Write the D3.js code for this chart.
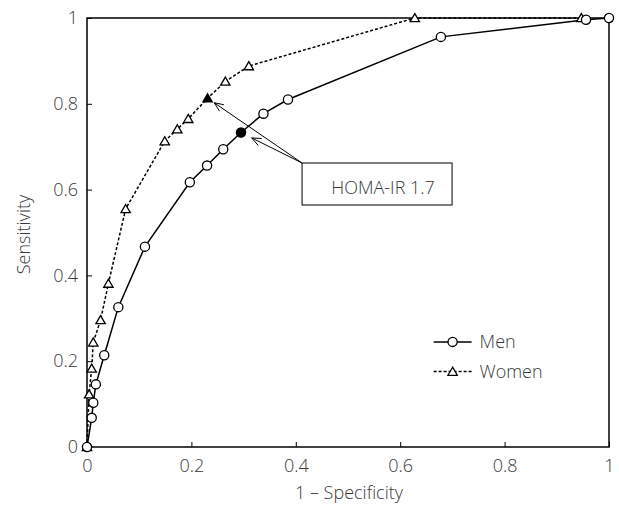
<!DOCTYPE html>
<html>
<head>
<meta charset="utf-8">
<script src="https://cdn.jsdelivr.net/npm/d3@7"></script>
<style>
  body { margin: 0; background: #fff; }
  text { font-family: "Open Sans", sans-serif; font-weight: 300; fill: #3a3a3a; }
</style>
</head>
<body>
<svg id="chart"></svg>
<script>
const W = 619
const H = 506
const MARGIN = {top: 18, right: 10, bottom: 59, left: 87}
const WIDTH = W - MARGIN.left - MARGIN.right
const HEIGHT = H - MARGIN.top - MARGIN.bottom
const FONT = "18px"

// 1 - specificity / sensitivity
const menX = [0, 0.009, 0.012, 0.017, 0.033, 0.06, 0.111, 0.197, 0.23, 0.261, 0.295, 0.338, 0.385, 0.678, 0.956, 1.0]
const menY = [0, 0.068, 0.103, 0.146, 0.214, 0.326, 0.467, 0.617, 0.656, 0.694, 0.733, 0.777, 0.81, 0.956, 0.996, 1.0]
const womenX = [0, 0.004, 0.009, 0.012, 0.026, 0.041, 0.074, 0.149, 0.173, 0.194, 0.231, 0.265, 0.31, 0.628, 0.947]
const womenY = [0, 0.123, 0.183, 0.244, 0.296, 0.381, 0.555, 0.713, 0.741, 0.765, 0.813, 0.852, 0.888, 1.0, 1.0]
// index of the HOMA-IR 1.7 cut-off point (filled marker)
const CUTOFF_MEN = 10
const CUTOFF_WOMEN = 10
const ticks = [0, 0.2, 0.4, 0.6, 0.8, 1]
const tickLabels = ["0", "0.2", "0.4", "0.6", "0.8", "1"]
const seriesNames = ["Men", "Women"]
const noteText = "HOMA-IR 1.7"

const svg = d3.select("#chart").attr("width", W).attr("height", H)
const g = svg.append("g").attr("transform", `translate(${MARGIN.left},${MARGIN.top})`)

const x = d3.scaleLinear().domain([0, 1]).range([0, WIDTH])
const y = d3.scaleLinear().domain([0, 1]).range([HEIGHT, 0])

// inward ticks
const xAxis = g.append("g")
  .attr("transform", `translate(0,${HEIGHT})`)
  .call(d3.axisBottom(x).tickValues(ticks).tickSizeInner(-5).tickSizeOuter(0).tickPadding(12)
    .tickFormat((d, i) => tickLabels[i]))
const yAxis = g.append("g")
  .call(d3.axisLeft(y).tickValues(ticks).tickSizeInner(-5).tickSizeOuter(0).tickPadding(9)
    .tickFormat((d, i) => tickLabels[i]))
;[xAxis, yAxis].forEach((a) => {
  a.select(".domain").remove()
  a.selectAll("line").attr("stroke", "#000").attr("stroke-width", 1)
  a.selectAll("text")
    .style("font-size", FONT)
    .style("font-family", "'Open Sans', sans-serif")
    .style("font-weight", 300)
    .attr("fill", "#3a3a3a")
})

// frame
g.append("rect")
  .attr("width", WIDTH).attr("height", HEIGHT)
  .attr("fill", "none").attr("stroke", "#000").attr("stroke-width", 1.5)

// axis titles
g.append("text")
  .attr("x", WIDTH / 2 + 1).attr("y", HEIGHT + 52)
  .attr("text-anchor", "middle").style("font-size", FONT)
  .text("1 \u2013 Specificity")
g.append("text")
  .attr("transform", "rotate(-90)")
  .attr("x", -HEIGHT / 2 - 2).attr("y", -57)
  .attr("text-anchor", "middle").style("font-size", FONT)
  .text("Sensitivity")

const men = menX.map((v, i) => ({x: v, y: menY[i], filled: i === CUTOFF_MEN}))
const women = womenX.map((v, i) => ({x: v, y: womenY[i], filled: i === CUTOFF_WOMEN}))

const line = d3.line().x((d) => x(d.x)).y((d) => y(d.y))

g.append("path").datum(men).attr("d", line)
  .attr("fill", "none").attr("stroke", "#000").attr("stroke-width", 1.5)
g.append("path").datum(women).attr("d", line)
  .attr("fill", "none").attr("stroke", "#000").attr("stroke-width", 1.5)
  .attr("stroke-dasharray", "3,2")

const triangle = d3.symbol().type(d3.symbolTriangle).size(38)

g.selectAll(".tri").data(women).enter().append("path")
  .attr("class", "tri")
  .attr("d", triangle)
  .attr("transform", (d) => `translate(${x(d.x)},${y(d.y) + 1})`)
  .attr("fill", (d) => (d.filled ? "#000" : "#fff"))
  .attr("stroke", "#000").attr("stroke-width", 1.3)

g.selectAll(".dot").data(men).enter().append("circle")
  .attr("class", "dot")
  .attr("cx", (d) => x(d.x)).attr("cy", (d) => y(d.y)).attr("r", 4.6)
  .attr("fill", (d) => (d.filled ? "#000" : "#fff"))
  .attr("stroke", "#000").attr("stroke-width", 1.3)

// annotation box + arrows
const box = {x: x(0.412), y: y(0.662), w: 150, h: 42}
g.append("rect")
  .attr("x", box.x).attr("y", box.y).attr("width", box.w).attr("height", box.h)
  .attr("fill", "#fff").attr("stroke", "#000").attr("stroke-width", 1)
g.append("text")
  .attr("x", box.x + 81).attr("y", box.y + 31)
  .attr("text-anchor", "middle").style("font-size", FONT)
  .text(noteText)

function arrow(target, gap) {
  const tx = x(target.x), ty = y(target.y)
  const dx = box.x - tx, dy = box.y - ty
  const len = Math.hypot(dx, dy)
  const ux = dx / len, uy = dy / len
  const px = tx + ux * gap, py = ty + uy * gap
  g.append("line")
    .attr("x1", box.x).attr("y1", box.y).attr("x2", px).attr("y2", py)
    .attr("stroke", "#000").attr("stroke-width", 1)
  const head = 10, ang = 0.4
  const a = Math.atan2(uy, ux)
  ;[a + ang, a - ang].forEach((t) => {
    g.append("line")
      .attr("x1", px).attr("y1", py)
      .attr("x2", px + Math.cos(t) * head).attr("y2", py + Math.sin(t) * head)
      .attr("stroke", "#000").attr("stroke-width", 1)
  })
}
arrow(women[CUTOFF_WOMEN], 8)
arrow(men[CUTOFF_MEN], 12)

// legend
const legend = g.append("g").attr("transform", `translate(${x(0.664)},${y(0.245)})`)
;seriesNames.forEach((name, i) => {
  const row = legend.append("g").attr("transform", `translate(0,${i * 29.7})`)
  row.append("line").attr("x1", 0).attr("x2", 38).attr("y1", 0).attr("y2", 0)
    .attr("stroke", "#000").attr("stroke-width", 1.5)
    .attr("stroke-dasharray", i === 1 ? "3,2" : null)
  if (i === 0) {
    row.append("circle").attr("cx", 19).attr("cy", 0).attr("r", 4.6)
      .attr("fill", "#fff").attr("stroke", "#000").attr("stroke-width", 1.3)
  } else {
    row.append("path").attr("d", triangle).attr("transform", "translate(19,1)")
      .attr("fill", "#fff").attr("stroke", "#000").attr("stroke-width", 1.3)
  }
  row.append("text").attr("x", 46).attr("y", 6.5).style("font-size", FONT).text(name)
})
</script>
</body>
</html>
